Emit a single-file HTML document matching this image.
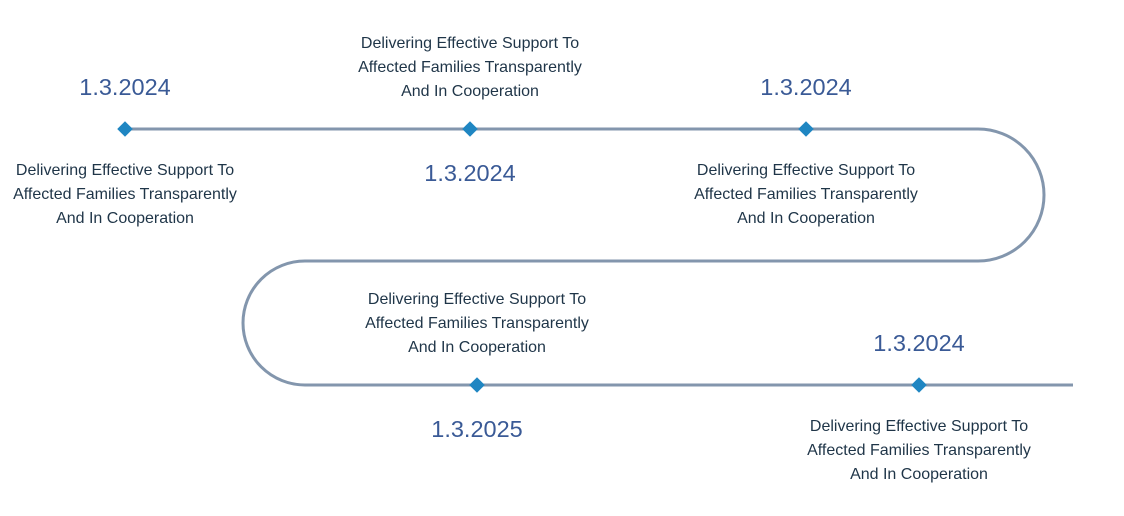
<!DOCTYPE html>
<html><head><meta charset="utf-8"><style>
html,body{margin:0;padding:0;background:#fff;}
svg{display:block;}
.date{font-family:"Liberation Sans",sans-serif;font-size:23.5px;fill:#3a5a96;text-anchor:middle;}
.desc{font-family:"Liberation Sans",sans-serif;font-size:16px;fill:#1f3548;text-anchor:middle;}
</style></head><body>
<svg id="chart" width="1124" height="516">
<path d="M125 129 H978 A66 66 0 0 1 978 261 H305 A62 62 0 0 0 305 385 H1073" fill="none" stroke="#8396ad" stroke-width="3"/>
</svg>
<script>
const dates=["1.3.2024","1.3.2024","1.3.2024","1.3.2025","1.3.2024"];
const descLines=["Delivering Effective Support To","Affected Families Transparently","And In Cooperation"];
const nodeX=[125,470,806,477,919];
const nodeRow=[0,0,0,1,1];
const dateAbove=[true,false,true,false,true];
const rowY=[129,385];
const svg=document.getElementById('chart');
const NS='http://www.w3.org/2000/svg';
dates.forEach((d,i)=>{
  const x=nodeX[i],y=rowY[nodeRow[i]];
  const g=document.createElementNS(NS,'g');
  
  
  const m=document.createElementNS(NS,'rect');
  
  
  m.setAttribute('x',x-5.5);m.setAttribute('y',y-5.5);m.setAttribute('width',11);m.setAttribute('height',11);
  m.setAttribute('fill','#1f86c2');m.setAttribute('transform',`rotate(45 ${x} ${y})`);
  g.appendChild(m);
  const t=document.createElementNS(NS,'text');
  
  
  t.setAttribute('class','date');t.setAttribute('x',x);
  t.setAttribute('y',dateAbove[i]?y-34:y+52);
  t.textContent=d;g.appendChild(t);
  const base=dateAbove[i]?y+46:y-81;
  descLines.forEach((l,j)=>{
    const tt=document.createElementNS(NS,'text');
    
    
    tt.setAttribute('class','desc');tt.setAttribute('x',x);tt.setAttribute('y',base+j*24);
    tt.textContent=l;g.appendChild(tt);
  });
  svg.appendChild(g);
});
</script>
</body></html>
